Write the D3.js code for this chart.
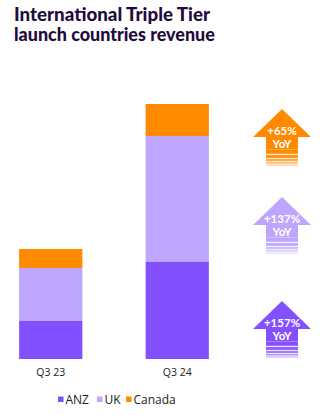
<!DOCTYPE html>
<html><head><meta charset="utf-8">
<script src="https://cdn.jsdelivr.net/npm/d3@7"></script>
<style>html,body{margin:0;padding:0;background:#fff;}svg{display:block;}</style>
</head><body>
<script>
const categories = ["Q3 23", "Q3 24"];
const seriesNames = ["ANZ", "UK", "Canada"];
const anz = [38, 97];
const uk = [53, 126];
const canada = [19, 32];
const yoyLabels = ["+157%", "+137%", "+65%"];
const titleLines = ["International Triple Tier", "launch countries revenue"];

const colors = {ANZ: "#8350FF", UK: "#BEA6FF", Canada: "#FF8A00"};
const W = 323, H = 415;
const svg = d3.select("body").append("svg").attr("width", W).attr("height", H)
  .style("font-family", "'Open Sans', Lato, sans-serif");

// title
const tl = svg.append("g").selectAll("text").data(titleLines).join("text")
  .attr("x", 14).attr("y", (d,i) => 21 + i*20)
  .attr("fill", "#1f0b3d").attr("font-weight", 900).attr("font-size", 18)
  .style("font-family", "Lato, sans-serif")
  .text(d => d);
const targetW = [196, 201];
tl.each(function(d,i){
  const w = this.getComputedTextLength();
  d3.select(this).attr("font-size", 18 * targetW[i] / w);
});

const table = categories.map((c,i) => ({cat: c, ANZ: anz[i], UK: uk[i], Canada: canada[i]}));
const stacked = d3.stack().keys(seriesNames)(table);

const x = d3.scaleBand().domain(categories).range([-12.5, 240.5]).paddingInner(0.5).paddingOuter(0.25);
const y = d3.scaleLinear().domain([0, 255]).range([359, 104]);

svg.append("g").selectAll("g").data(stacked).join("g")
  .attr("fill", d => colors[d.key])
  .selectAll("rect").data(d => d).join("rect")
  .attr("x", d => x(d.data.cat)).attr("width", x.bandwidth())
  .attr("y", d => y(d[1])).attr("height", d => y(d[0]) - y(d[1]));

// x labels
const xAxis = svg.append("g").attr("transform", "translate(0,359)")
  .call(d3.axisBottom(x).tickSize(0).tickPadding(10));
xAxis.select(".domain").remove();
xAxis.selectAll("text").attr("font-size", 10.5).attr("fill", "#222")
  .style("font-family", "'Open Sans', sans-serif");

// arrows
const arrowTips = [301, 197, 109];
const arrowColors = [colors.ANZ, colors.UK, colors.Canada];
const cx = 282, headHalf = 29, headH = 28, shaftHalf = 16, shaftH = 28;
yoyLabels.forEach((lab, i) => {
  const g = svg.append("g").attr("transform", `translate(${cx},${arrowTips[i]})`);
  const col = arrowColors[i];
  g.append("path").attr("fill", col)
    .attr("d", `M0,0 L${headHalf},${headH} L${shaftHalf},${headH} L${shaftHalf},${headH+shaftH*0.45} L${-shaftHalf},${headH+shaftH*0.45} L${-shaftHalf},${headH} L${-headHalf},${headH} Z`);
  const start = headH + shaftH*0.45;
  const bands = [[0,4.2,1],[5.2,3.2,0.9],[9.2,2.4,0.75],[12.4,1.6,0.6],[14.8,1.2,0.45]];
  bands.forEach(b => {
    g.append("rect").attr("x", -shaftHalf).attr("width", shaftHalf*2)
      .attr("y", start + b[0] - 0.01).attr("height", b[1]).attr("fill", col).attr("opacity", b[2]);
  });
  g.append("text").attr("x", 0).attr("y", 25.5).attr("text-anchor", "middle")
    .style("font-family", "Lato, sans-serif")
    .attr("fill", "#fff").attr("font-weight", 700).attr("font-size", 11.5).text(lab);
  g.append("text").attr("x", 0).attr("y", 38.5).attr("text-anchor", "middle")
    .style("font-family", "Lato, sans-serif")
    .attr("fill", "#fff").attr("font-weight", 700).attr("font-size", 11.5).text("YoY");
});

// legend
const legX = [58, 97, 126];
const leg = svg.append("g").selectAll("g").data(seriesNames).join("g")
  .attr("transform", (d,i) => `translate(${legX[i]},396)`);
leg.append("rect").attr("width", 5.5).attr("height", 5.5).attr("y", 0.5).attr("fill", d => colors[d]);
leg.append("text").attr("x", 7.5).attr("y", 8).attr("font-size", 12).attr("fill", "#222").text(d => d);
</script>
</body></html>
